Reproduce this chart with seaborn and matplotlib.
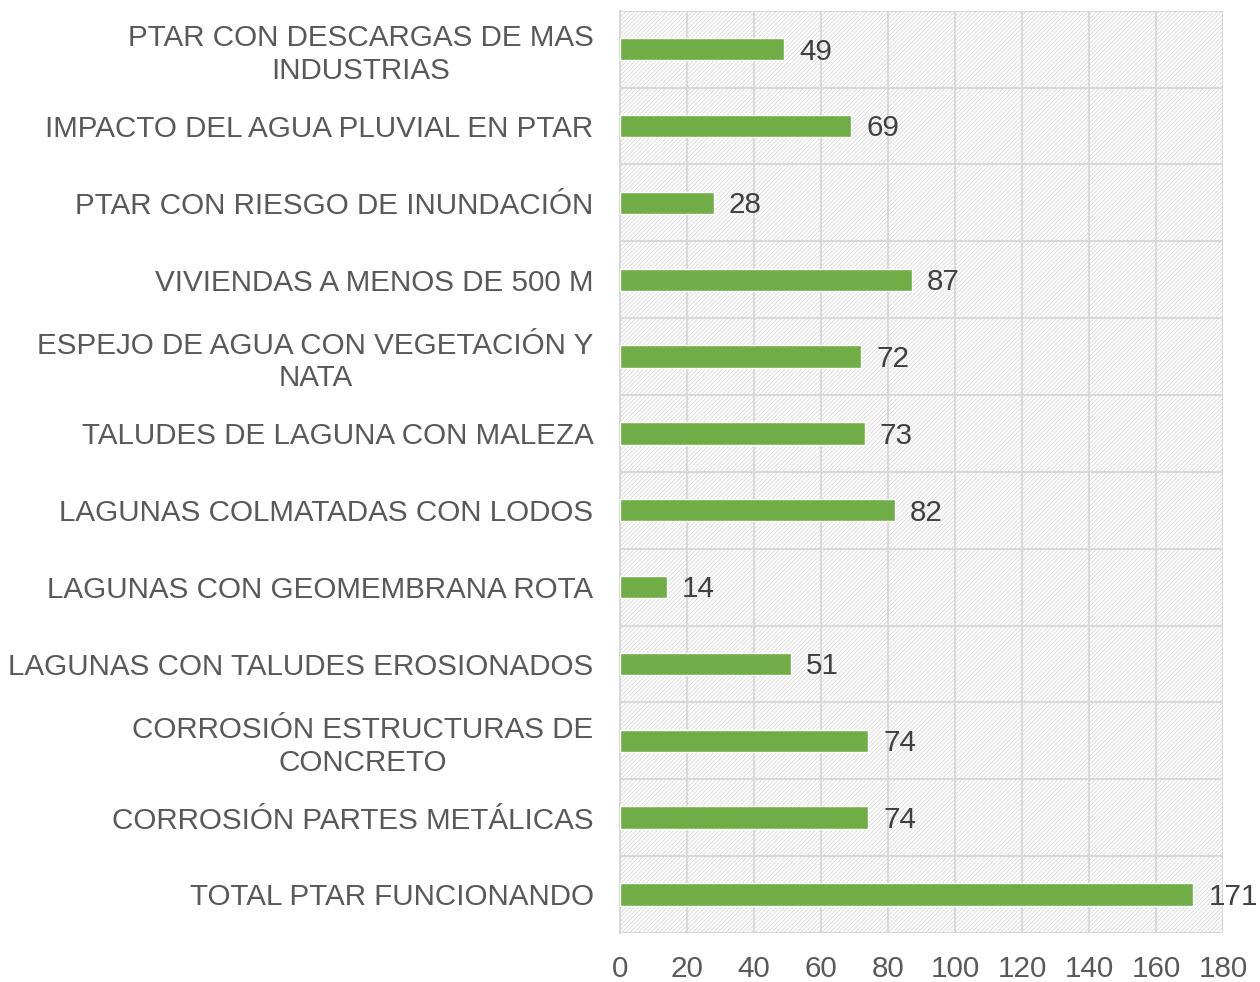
import numpy as np
import pandas as pd
import matplotlib
matplotlib.use("Agg")
import matplotlib.pyplot as plt
import seaborn as sns

categories = [
    "PTAR CON DESCARGAS DE MAS\nINDUSTRIAS",
    "IMPACTO DEL AGUA PLUVIAL EN PTAR",
    "PTAR CON RIESGO DE INUNDACIÓN",
    "VIVIENDAS A MENOS DE 500 M",
    "ESPEJO DE AGUA CON VEGETACIÓN Y\nNATA",
    "TALUDES DE LAGUNA CON MALEZA",
    "LAGUNAS COLMATADAS CON LODOS",
    "LAGUNAS CON GEOMEMBRANA ROTA",
    "LAGUNAS CON TALUDES EROSIONADOS",
    "CORROSIÓN ESTRUCTURAS DE\nCONCRETO",
    "CORROSIÓN PARTES METÁLICAS",
    "TOTAL PTAR FUNCIONANDO",
]
values = [49, 69, 28, 87, 72, 73, 82, 14, 51, 74, 74, 171]
x_ticks = [0, 20, 40, 60, 80, 100, 120, 140, 160, 180]

df = pd.DataFrame({"categoria": categories, "valor": values})

sns.set_style("white")
plt.rcParams["font.family"] = ["Liberation Sans", "DejaVu Sans"]
plt.rcParams["hatch.color"] = "#DDDDDD"
plt.rcParams["hatch.linewidth"] = 0.6

text_color = "#595959"
grid_color = "#D9D9D9"
fs = 21.3

fig = plt.figure(figsize=(12.6, 9.82), dpi=100)
ax = fig.add_axes([0.492, 0.050, 0.479, 0.939])

sns.barplot(data=df, x="valor", y="categoria", orient="h", color="#70AD47",
            width=0.29, saturation=1, ax=ax, zorder=3)

# fondo rayado del area de trazado
ax.patch.set_facecolor("white")
ax.patch.set_hatch("////////")
ax.patch.set_edgecolor(grid_color)

ax.set_xlim(0, 180)
ax.set_ylim(len(categories) - 0.5, -0.5)
ax.set_xticks(x_ticks)
ax.set_xticklabels([str(t) for t in x_ticks])
ax.set_yticks(np.arange(len(categories)))
ax.set_yticklabels(categories, multialignment="center", linespacing=1.22)
ax.set_yticks(np.arange(len(categories) + 1) - 0.5, minor=True)

ax.grid(axis="x", which="major", color=grid_color, lw=1.5, zorder=1)
ax.grid(axis="y", which="minor", color=grid_color, lw=1.5, zorder=1)
ax.set_axisbelow(True)

for side in ["top", "right", "bottom"]:
    ax.spines[side].set_visible(False)
ax.spines["left"].set_color(grid_color)
ax.spines["left"].set_linewidth(1.5)

ax.tick_params(axis="y", which="major", length=0, pad=19, labelsize=fs, labelcolor=text_color)
ax.tick_params(axis="y", which="minor", length=7, width=1.5, color=grid_color)
ax.tick_params(axis="x", length=0, pad=16, labelsize=fs, labelcolor=text_color)
ax.set_xlabel("")
ax.set_ylabel("")

for i, v in enumerate(values):
    ax.text(v + 4.5, i + 0.03, str(v), va="center", ha="left", fontsize=fs,
            color="#404040", zorder=4)

fig.savefig("out.png", dpi=100)
